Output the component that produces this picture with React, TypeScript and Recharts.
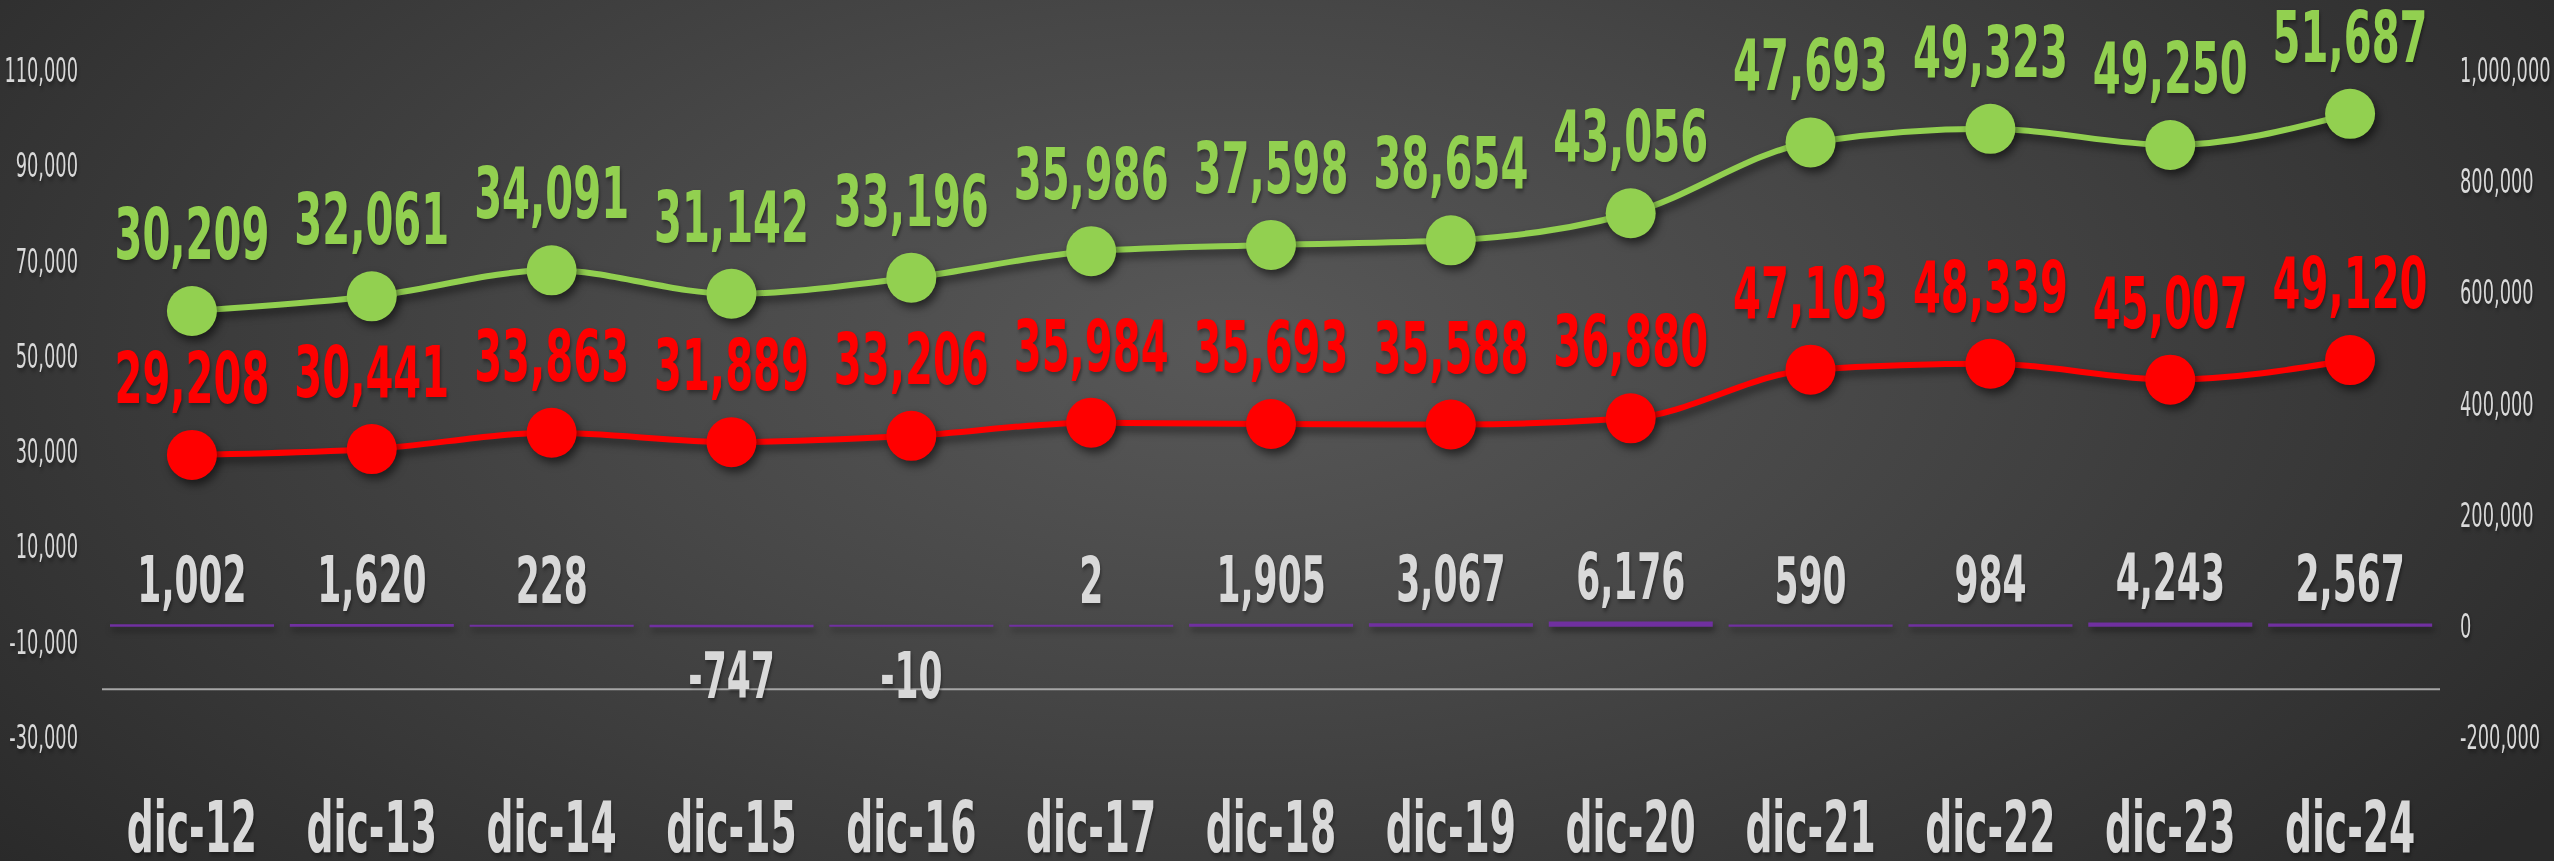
import { ComposedChart, Area, Bar, XAxis, YAxis, ReferenceLine, LabelList } from 'recharts';

// monthly totals, Dec 2012 - Dec 2024
const months = ['dic-12', 'dic-13', 'dic-14', 'dic-15', 'dic-16', 'dic-17', 'dic-18', 'dic-19', 'dic-20', 'dic-21', 'dic-22', 'dic-23', 'dic-24'];
const redValues = [29208, 30441, 33863, 31889, 33206, 35984, 35693, 35588, 36880, 47103, 48339, 45007, 49120];
const greenValues = [30209, 32061, 34091, 31142, 33196, 35986, 37598, 38654, 43056, 47693, 49323, 49250, 51687];
const diffValues = [1002, 1620, 228, -747, -10, 2, 1905, 3067, 6176, 590, 984, 4243, 2567];

const leftTicks = [-30000, -10000, 10000, 30000, 50000, 70000, 90000, 110000];
const rightTicks = [-200000, 0, 200000, 400000, 600000, 800000, 1000000];

const GREEN = '#92D050';
const RED = '#FF0000';
const PURPLE = '#7030A0';
const GREY = '#D9D9D9';
const FONT = '"DejaVu Sans Condensed", "DejaVu Sans", sans-serif';

const data = months.map((m, i) => ({
    month: m,
    red: redValues[i],
    green: greenValues[i],
    diff: diffValues[i]
}));

const fmt = (v: number) => v.toLocaleString('en-US');

function CondText({ x, y, sx, anchor, size, weight, fill, children }: any) {
    return (
        <text
            transform={`translate(${x},${y}) scale(${sx},1)`}
            textAnchor={anchor}
            fontSize={size}
            fontWeight={weight}
            fill={fill}
            fontFamily={FONT}
            className="lbl"
        >
            {children}
        </text>
    );
}

const pointLabel = (color: string) => (props: any) => {
    const { x, y, value } = props;
    return (
        <CondText x={x} y={y - 52} sx={0.62} anchor="middle" size={72} weight="bold" fill={color}>
            {fmt(value)}
        </CondText>
    );
};

const barLabel = (props: any) => {
    const { x, y, width, height, value } = props;
    const top = Math.min(y, y + height);
    const bottom = Math.max(y, y + height);
    const ly = value >= 0 ? top - 23 : bottom + 72;
    return (
        <CondText x={x + width / 2} y={ly} sx={0.6} anchor="middle" size={64} weight="bold" fill={GREY}>
            {fmt(value)}
        </CondText>
    );
};

const monthTick = (props: any) => (
    <CondText x={props.x} y={props.y + 115} sx={0.59} anchor="middle" size={71} weight="bold" fill={GREY}>
        {props.payload.value}
    </CondText>
);

const leftTick = (props: any) => (
    <CondText x={props.x - 24} y={props.y + 12} sx={0.6} anchor="end" size={33} weight="normal" fill={GREY}>
        {fmt(props.payload.value)}
    </CondText>
);

const rightTick = (props: any) => (
    <CondText x={props.x + 20} y={props.y + 12} sx={0.6} anchor="start" size={33} weight="normal" fill={GREY}>
        {fmt(props.payload.value)}
    </CondText>
);

export default function App() {
    return (
        <div
            style={{
                width: 2554,
                height: 861,
                background: 'radial-gradient(ellipse 62% 95% at 48% 40%, #585858 0%, #474747 40%, #2a2a2a 100%)'
            }}
        >
            <style>{`
                body { margin: 0; }
                .recharts-area-curve, .recharts-area-dots circle { filter: drop-shadow(3px 5px 4px rgba(0,0,0,0.55)); }
                .recharts-bar-rectangle path { filter: drop-shadow(2px 4px 3px rgba(0,0,0,0.5)); }
                .lbl { filter: drop-shadow(2px 3px 2px rgba(0,0,0,0.35)); }
            `}</style>
            <ComposedChart width={2554} height={861} data={data} margin={{ top: 70, right: 0, bottom: 0, left: 0 }} barCategoryGap="5%">
                <XAxis dataKey="month" height={124} axisLine={false} tickLine={false} tickSize={0} tickMargin={0} tick={monthTick} interval={0} />
                <YAxis
                    yAxisId="left"
                    width={102}
                    domain={[-30000, 110000]}
                    ticks={leftTicks}
                    axisLine={false}
                    tickLine={false}
                    tickSize={0}
                    tickMargin={0}
                    tick={leftTick}
                    allowDataOverflow
                />
                <YAxis
                    yAxisId="right"
                    orientation="right"
                    width={114}
                    domain={[-200000, 1000000]}
                    ticks={rightTicks}
                    axisLine={false}
                    tickLine={false}
                    tickSize={0}
                    tickMargin={0}
                    tick={rightTick}
                    allowDataOverflow
                />
                <ReferenceLine yAxisId="left" y={-20000} stroke="#A6A6A6" strokeWidth={2} />
                <Bar yAxisId="right" dataKey="diff" fill={PURPLE} stroke={PURPLE} strokeWidth={2} isAnimationActive={false}>
                    <LabelList dataKey="diff" content={barLabel} />
                </Bar>
                <Area
                    yAxisId="left"
                    type="monotone"
                    dataKey="red"
                    stackId="s"
                    stroke={RED}
                    strokeWidth={6}
                    fill="none"
                    fillOpacity={1}
                    dot={{ r: 25, fill: RED, fillOpacity: 1, stroke: RED, strokeWidth: 0 }}
                    activeDot={false}
                    isAnimationActive={false}
                >
                    <LabelList dataKey="red" content={pointLabel(RED)} />
                </Area>
                <Area
                    yAxisId="left"
                    type="monotone"
                    dataKey="green"
                    stackId="s"
                    stroke={GREEN}
                    strokeWidth={6}
                    fill="none"
                    fillOpacity={1}
                    dot={{ r: 25, fill: GREEN, fillOpacity: 1, stroke: GREEN, strokeWidth: 0 }}
                    activeDot={false}
                    isAnimationActive={false}
                >
                    <LabelList dataKey="green" content={pointLabel(GREEN)} />
                </Area>
            </ComposedChart>
        </div>
    );
}
